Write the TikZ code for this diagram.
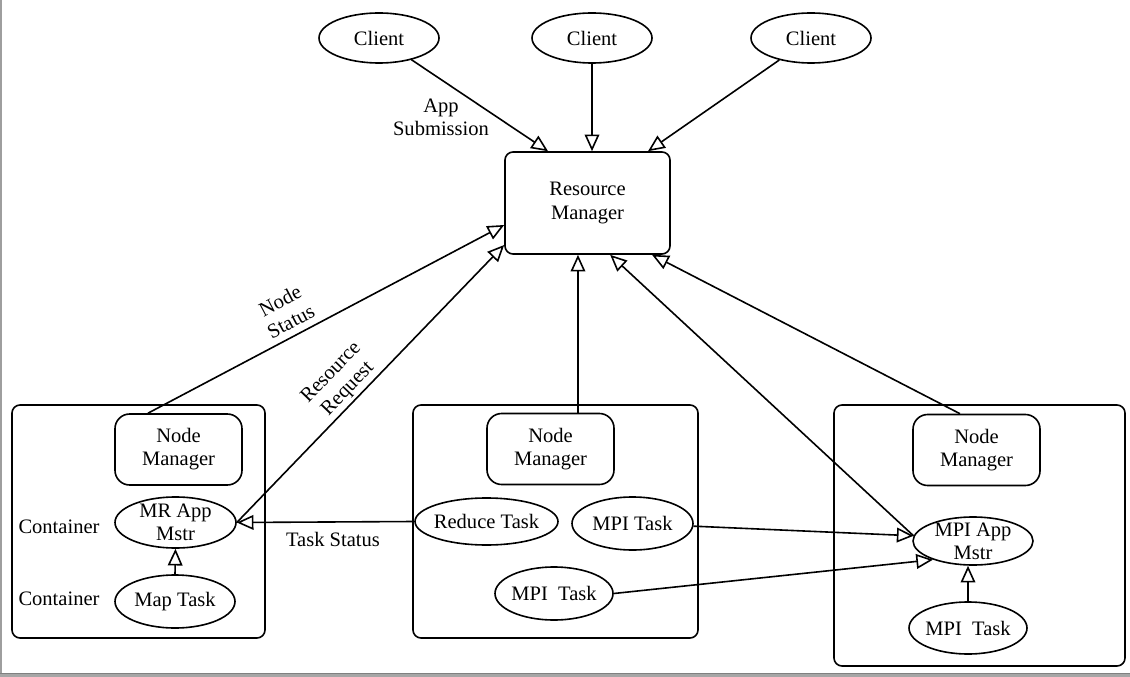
\documentclass[tikz,border=0pt]{standalone}
\usepackage{fontspec}
\setmainfont{Liberation Serif}
\usetikzlibrary{arrows.meta,shapes.geometric}
\begin{document}
\begin{tikzpicture}[x=0.75pt,y=-0.75pt,
  every node/.style={font=\fontsize{15.4}{17.3}\selectfont, inner sep=0pt, align=center},
  ell/.style={draw, ellipse, line width=1.2pt, inner sep=-4pt},
  rbox/.style={draw, rounded corners=11pt, line width=1.2pt},
  cont/.style={draw, rounded corners=6pt, line width=1.2pt},
  arr/.style={line width=1.2pt, -{Triangle[open,length=12.5pt,width=11pt,line width=1.2pt]}},
  lbl/.style={inner sep=2pt}]
\useasboundingbox (0,0) rectangle (1130,677);
\fill[white] (0,0) rectangle (1130,677);
\fill[black!38] (0,0) rectangle (2,677);
\fill[black!35] (0,673) rectangle (1130,677);
\fill[black!50] (0,672.5) rectangle (1130,673.8);

% containers
\node[cont, minimum width=189.75pt, minimum height=174.75pt] (box1) at (138.5,521.5) {};
\node[cont, minimum width=213.75pt, minimum height=174.75pt] (box2) at (555.5,521.5) {};
\node[cont, minimum width=218.25pt, minimum height=195.75pt] (box3) at (979.5,535.5) {};

% clients
\node[ell, minimum width=90pt, minimum height=37.5pt] (c1) at (379,38) {Client};
\node[ell, minimum width=90pt, minimum height=37.5pt] (c2) at (592,38) {Client};
\node[ell, minimum width=90pt, minimum height=37.5pt] (c3) at (811,38) {Client};

% resource manager
\node[draw, rounded corners=6pt, line width=1.2pt, minimum width=123.75pt, minimum height=76.5pt] (rm) at (587.5,203) {Resource\\Manager};

% node managers
\node[rbox, minimum width=95.25pt, minimum height=53.25pt] (nm1) at (178.5,449.5) {Node\\Manager};
\node[rbox, minimum width=95.25pt, minimum height=53.25pt] (nm2) at (550.5,449) {Node\\Manager};
\node[rbox, minimum width=95.25pt, minimum height=53.25pt] (nm3) at (976.5,450) {Node\\Manager};

% tasks
\node[ell, minimum width=90.75pt, minimum height=38.25pt] (mr) at (175.5,522.5) {MR App\\Mstr};
\node[ell, minimum width=90pt, minimum height=39.75pt] (map) at (175,601.5) {Map Task};
\node[ell, minimum width=107.25pt, minimum height=35.25pt] (red) at (486.5,521.5) {Reduce Task};
\node[ell, minimum width=90.75pt, minimum height=39.75pt] (mt1) at (632.5,523.5) {MPI Task};
\node[ell, minimum width=88.5pt, minimum height=39.75pt] (mt2) at (554,593.5) {MPI\ \ Task};
\node[ell, minimum width=90pt, minimum height=36pt] (ma) at (973,541) {MPI App\\Mstr};
\node[ell, minimum width=88.5pt, minimum height=39pt] (mt3) at (968,628) {MPI\ \ Task};

% labels
\node (lc1) at (59,527) {Container};
\node (lc2) at (59,599) {Container};
\node (lts) at (333,539) {Task Status};
\node (las) at (441,117) {App\\Submission};

% helper coordinates
\coordinate (nm1top) at ([xshift=-22.9pt]nm1.north);
\coordinate (nm2top) at ([xshift=20.6pt]nm2.north);
\coordinate (nm3top) at ([xshift=-12.4pt]nm3.north);

% connectors
\draw[arr] (c1) -- ([xshift=-29.6pt]rm.north);
\draw[arr] (c2.south) -- (c2.south |- rm.north);
\draw[arr] (c3) -- ([xshift=45.4pt]rm.north);
\draw[arr] (nm1top) -- node[pos=0.42, sloped, above, inner sep=5pt] {Node\\Status} ([yshift=-16.5pt]rm.west);
\draw[arr] (mr.east) -- node[pos=0.45, sloped, above, lbl] {Resource\\Request} ([yshift=-31.5pt]rm.west);
\draw[arr] (red.west) -- (mr.east);
\draw[arr] (map.north) -- (mr.south);
\draw[arr] (nm2top) -- (nm2top |- rm.south);
\draw[arr] (ma.175) -- ([xshift=17pt]rm.south);
\draw[arr] (nm3top) -- ([xshift=48.4pt]rm.south);
\draw[arr] (mt1) -- (ma.175);
\draw[arr] (mt2.east) -- (ma.205);
\draw[arr] (mt3.north) -- (mt3.north |- ma.south);
\end{tikzpicture}
\end{document}
